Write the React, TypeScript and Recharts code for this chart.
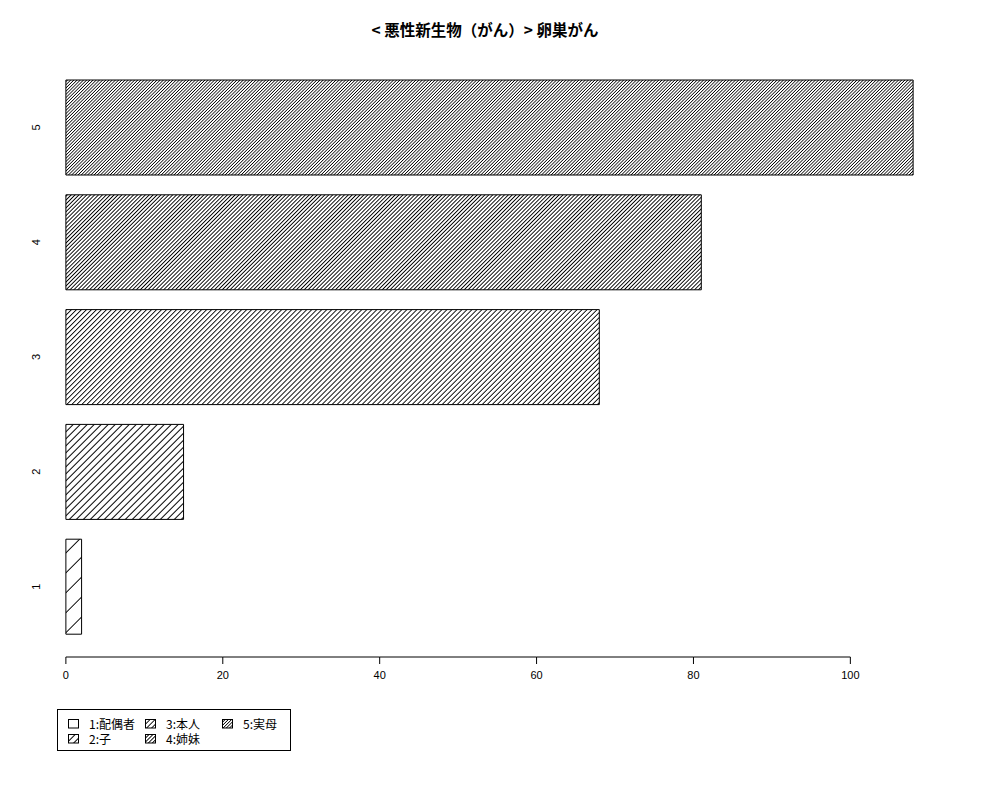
import React from 'react'
import { BarChart, Bar, Cell, XAxis, YAxis } from 'recharts'

const categories = ['1', '2', '3', '4', '5']
const counts = [2, 15, 68, 81, 108]
const legendLabels = ['1:配偶者', '2:子', '3:本人', '4:姉妹', '5:実母']
const xTicks = [0, 20, 40, 60, 80, 100]
const xDomain = [-4.32, 112.32]
const title = '< 悪性新生物（がん）> 卵巣がん'

// hatch line gap (perpendicular, px) for each bar, sparse -> dense
const hatchGaps = [14.1, 4.95, 3.54, 2.76, 2.26]

const data = categories.map((name, i) => ({ name, value: counts[i] }))

const TICK_SIZE = 7
const TICK_MARGIN = 7

function HatchDefs({ prefix }: { prefix: string }) {
  return (
    <defs>
      {hatchGaps.map((g, i) => (
        <pattern
          key={i}
          id={`${prefix}${i}`}
          width={g}
          height={g}
          patternUnits="userSpaceOnUse"
          patternTransform="rotate(45)"
        >
          <rect width={g} height={g} fill="#fff" />
          <line x1={0} y1={0} x2={0} y2={g} stroke="#000" strokeWidth={1} shapeRendering="crispEdges" />
        </pattern>
      ))}
    </defs>
  )
}

// x tick label + the piece of axis line up to the next tick (R draws the line only between first and last tick)
const XTick = (props: any) => {
  const { x, y, payload, index, width } = props
  const axisY = y - TICK_SIZE - TICK_MARGIN
  const step = ((xTicks[1] - xTicks[0]) * width) / (xDomain[1] - xDomain[0])
  return (
    <g>
      {index < xTicks.length - 1 && (
        <line x1={x} y1={axisY} x2={x + step} y2={axisY} stroke="#000" strokeWidth={1} />
      )}
      <text
        x={x}
        y={y}
        dy="0.71em"
        textAnchor="middle"
        fontSize={11}
        fontFamily="Liberation Sans, Arial, sans-serif"
        fill="#000"
      >
        {payload.value}
      </text>
    </g>
  )
}

const YTick = (props: any) => {
  const { x, y, payload } = props
  return (
    <text
      x={x + 4}
      y={y}
      transform={`rotate(-90, ${x + 4}, ${y})`}
      textAnchor="middle"
      dominantBaseline="central"
      fontSize={11}
      fontFamily="Liberation Sans, Arial, sans-serif"
      fill="#000"
    >
      {payload.value}
    </text>
  )
}

function LegendBox() {
  // column-major order, two rows
  const cols = [[0, 1], [2, 3], [4]]
  return (
    <div
      style={{
        position: 'absolute',
        left: 57,
        top: 709,
        width: 234,
        height: 42,
        border: '1px solid #000',
        fontFamily: '"Noto Sans CJK JP", "Liberation Sans", sans-serif',
        fontSize: 12,
        display: 'flex',
        paddingLeft: 10,
        paddingTop: 6,
        boxSizing: 'border-box',
      }}
    >
      {cols.map((col, ci) => (
        <div key={ci} style={{ width: ci === 2 ? 60 : 77 }}>
          {col.map((idx) => (
            <div key={idx} style={{ display: 'flex', alignItems: 'center', height: 15 }}>
              <svg width={12} height={10} style={{ marginRight: 9 }}>
                <HatchDefs prefix={`lg${idx}_`} />
                <rect x={0.5} y={0.5} width={10} height={8.5} fill={`url(#lg${idx}_${idx})`} stroke="#000" />
              </svg>
              <span>{legendLabels[idx]}</span>
            </div>
          ))}
        </div>
      ))}
    </div>
  )
}

export default function App() {
  return (
    <div style={{ position: 'absolute', left: 0, top: 0, width: 1000, height: 800, background: '#fff' }}>
      <div
        style={{
          position: 'absolute',
          left: 0,
          top: 20,
          width: 970,
          textAlign: 'center',
          fontFamily: '"Noto Sans CJK JP", sans-serif',
          fontWeight: 'bold',
          fontSize: 15.5,
          lineHeight: '18px',
        }}
      >
        {title}
      </div>
      <BarChart
        width={1000}
        height={800}
        data={data}
        layout="vertical"
        margin={{ top: 57, right: 53, bottom: 113, left: 0 }}
        barSize={95}
      >
        <HatchDefs prefix="hatch" />
        <XAxis
          type="number"
          domain={xDomain}
          allowDataOverflow
          ticks={xTicks}
          axisLine={false}
          tickSize={TICK_SIZE}
          tickMargin={TICK_MARGIN}
          height={30}
          tick={<XTick />}
          tickLine={{ stroke: '#000' }}
        />
        <YAxis
          type="category"
          dataKey="name"
          reversed
          width={32}
          axisLine={false}
          tickLine={false}
          tickSize={0}
          tickMargin={0}
          padding={{ top: 13, bottom: 13 }}
          tick={<YTick />}
        />
        <Bar dataKey="value" stroke="#000" strokeWidth={1} isAnimationActive={false}>
          {data.map((_, i) => (
            <Cell key={i} fill={`url(#hatch${i})`} />
          ))}
        </Bar>
      </BarChart>
      <LegendBox />
    </div>
  )
}
